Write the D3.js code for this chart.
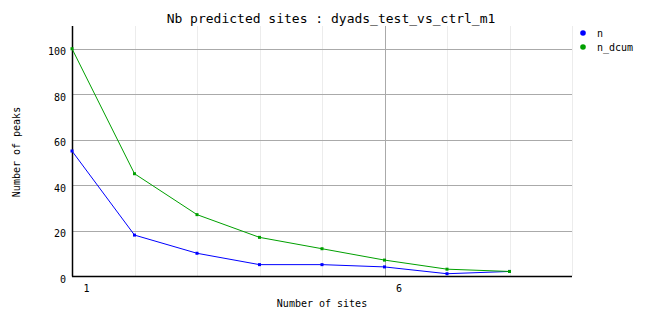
<!DOCTYPE html>
<html>
<head>
<meta charset="utf-8">
<script src="https://cdn.jsdelivr.net/npm/d3@7"></script>
<style>
  body { margin: 0; background: #fff; }
  text { font-family: "DejaVu Sans Mono", monospace; fill: #000; }
</style>
</head>
<body>
<div id="chart"></div>
<script>
// Chart data
const sites = [1, 2, 3, 4, 5, 6, 7, 8];
const nValues = [55, 18, 10, 5, 5, 4, 1, 2];
const nDcumValues = [100, 45, 27, 17, 12, 7, 3, 2];
const seriesNames = ["n", "n_dcum"];
const seriesColors = ["#0000ff", "#00a000"];
const yTicks = [0, 20, 40, 60, 80, 100];
const xTickLabels = [1, 6];

const fullWidth = 662, fullHeight = 328;
const margin = { top: 26, right: 90, bottom: 52, left: 72 };
const width = fullWidth - margin.left - margin.right;
const height = fullHeight - margin.top - margin.bottom;

const root = d3.select("#chart")
    .append("svg")
    .attr("width", fullWidth)
    .attr("height", fullHeight);

const svg = root.append("g")
    .attr("transform", `translate(${margin.left},${margin.top})`);

const xScale = d3.scaleLinear().domain([1, 9]).range([0, width]);
const yScale = d3.scaleLinear().domain([0, 110]).range([height, 0]);

// Vertical grid (light minor, gray at 6)
svg.append("g")
    .selectAll("line")
    .data(d3.range(2, 10))
    .enter().append("line")
    .attr("x1", d => Math.round(xScale(d)) + 0.5)
    .attr("x2", d => Math.round(xScale(d)) + 0.5)
    .attr("y1", 0)
    .attr("y2", height)
    .attr("stroke", d => xTickLabels.includes(d) ? "#aaaaaa" : "#ececec")
    .attr("stroke-width", 1);

// Horizontal grid
svg.append("g")
    .selectAll("line")
    .data(yTicks.filter(d => d > 0))
    .enter().append("line")
    .attr("x1", 0)
    .attr("x2", width)
    .attr("y1", d => Math.round(yScale(d)) + 0.5)
    .attr("y2", d => Math.round(yScale(d)) + 0.5)
    .attr("stroke", "#aaaaaa")
    .attr("stroke-width", 1);

// Axes
const yAxis = svg.append("g")
    .call(d3.axisLeft(yScale).tickValues(yTicks).tickSize(0).tickPadding(6));
yAxis.select(".domain").remove();
yAxis.selectAll("text")
    .attr("dy", null)
    .attr("y", 6)
    .style("font-size", "10px")
    .style("font-family", "DejaVu Sans Mono, monospace");

const xAxis = svg.append("g")
    .attr("transform", `translate(0,${height})`)
    .call(d3.axisBottom(xScale).tickValues(xTickLabels).tickSize(0).tickPadding(9).tickFormat(d3.format("d")));
xAxis.select(".domain").remove();
xAxis.selectAll("text")
    .attr("x", 14)
    .style("font-size", "10px")
    .style("font-family", "DejaVu Sans Mono, monospace");

svg.append("line")
    .attr("x1", 0.5).attr("x2", 0.5)
    .attr("y1", 0).attr("y2", height + 0.5)
    .attr("stroke", "#000").attr("stroke-width", 1.5);
svg.append("line")
    .attr("x1", 0).attr("x2", width)
    .attr("y1", height + 0.5).attr("y2", height + 0.5)
    .attr("stroke", "#000").attr("stroke-width", 1.5);

// Series
const series = [nValues, nDcumValues];
const line = d3.line()
    .x((d, i) => xScale(sites[i]))
    .y(d => yScale(d));

series.forEach((values, k) => {
    svg.append("path")
        .datum(values)
        .attr("fill", "none")
        .attr("stroke", seriesColors[k])
        .attr("stroke-width", 1)
        .attr("d", line);

    svg.append("g")
        .selectAll("rect")
        .data(values)
        .enter().append("rect")
        .attr("x", (d, i) => xScale(sites[i]) - 1.5)
        .attr("y", d => yScale(d) - 1.5)
        .attr("width", 3)
        .attr("height", 3)
        .attr("fill", seriesColors[k]);
});

// Legend
const legend = root.append("g")
    .attr("transform", "translate(583, 33)");

legend.selectAll("circle")
    .data(seriesNames)
    .enter().append("circle")
    .attr("cx", 0)
    .attr("cy", (d, i) => i * 14)
    .attr("r", 2.8)
    .attr("fill", (d, i) => seriesColors[i]);

legend.selectAll("text")
    .data(seriesNames)
    .enter().append("text")
    .attr("x", 14)
    .attr("y", (d, i) => i * 14 + 4)
    .style("font-size", "10px")
    .text(d => d);

// Title
root.append("text")
    .attr("x", 331)
    .attr("y", 23)
    .attr("text-anchor", "middle")
    .style("font-size", "13px")
    .text("Nb predicted sites : dyads_test_vs_ctrl_m1");

// Axis titles
root.append("text")
    .attr("x", margin.left + 250)
    .attr("y", 307)
    .attr("text-anchor", "middle")
    .style("font-size", "10px")
    .text("Number of sites");

root.append("text")
    .attr("transform", "translate(20,152) rotate(-90)")
    .attr("text-anchor", "middle")
    .style("font-size", "10px")
    .text("Number of peaks");
</script>
</body>
</html>
